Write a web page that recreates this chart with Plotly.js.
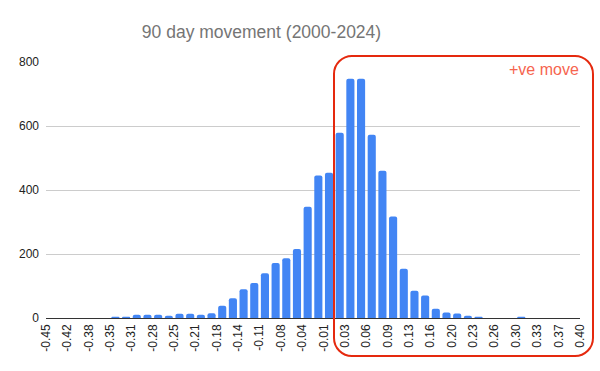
<!DOCTYPE html>
<html>
<head>
<meta charset="utf-8">
<script src="https://cdn.plot.ly/plotly-3.0.1.min.js"></script>
<style>html,body{margin:0;padding:0;background:#fff;}#chart{width:600px;height:371px;}</style>
</head>
<body>
<div id="chart"></div>
<script>
// Bucket lower edges (width 0.017) from -0.45 to 0.40
const bucketStart = -0.45;
const bucketWidth = 0.017;
const counts = [
  0, 0, 0, 0, 0, 0, 4, 4, 10, 10,
  10, 7, 13, 13, 10, 15, 38, 62, 90, 109,
  140, 172, 187, 216, 348, 445, 454, 579, 748, 748,
  573, 460, 317, 154, 85, 70, 29, 17, 14, 7,
  4, 0, 0, 0, 4, 0, 0, 0, 0, 0
];
const tickValues = [-0.45,-0.416,-0.382,-0.348,-0.314,-0.28,-0.246,-0.212,-0.178,-0.144,-0.11,-0.076,-0.042,-0.008,0.026,0.06,0.094,0.128,0.162,0.196,0.23,0.264,0.298,0.332,0.366,0.40];
const tickLabels = ["-0.45","-0.42","-0.38","-0.35","-0.31","-0.28","-0.25","-0.21","-0.18","-0.14","-0.11","-0.08","-0.04","-0.01","0.03","0.06","0.09","0.13","0.16","0.20","0.23","0.26","0.30","0.33","0.37","0.40"];
const yTicks = [0, 200, 400, 600, 800];

const centers = counts.map((c, i) => +(bucketStart + bucketWidth * (i + 0.5)).toFixed(4));

const W = 600, H = 371;
const M = {l: 46, r: 20, t: 62, b: 53};
const pw = W - M.l - M.r, ph = H - M.t - M.b;
const px = x => (x - M.l) / pw;
const py = y => (H - M.b - y) / ph;

// rounded rectangle in pixel terms -> paper coords
function roundRect(x0, y0, x1, y1, r) {
  const P = (x, y) => px(x).toFixed(5) + ',' + py(y).toFixed(5);
  const k = 0.5523 * r;
  return 'M' + P(x0 + r, y0) +
    ' L' + P(x1 - r, y0) +
    ' C' + P(x1 - r + k, y0) + ' ' + P(x1, y0 + r - k) + ' ' + P(x1, y0 + r) +
    ' L' + P(x1, y1 - r) +
    ' C' + P(x1, y1 - r + k) + ' ' + P(x1 - r + k, y1) + ' ' + P(x1 - r, y1) +
    ' L' + P(x0 + r, y1) +
    ' C' + P(x0 + r - k, y1) + ' ' + P(x0, y1 - r + k) + ' ' + P(x0, y1 - r) +
    ' L' + P(x0, y0 + r) +
    ' C' + P(x0, y0 + r - k) + ' ' + P(x0 + r - k, y0) + ' ' + P(x0 + r, y0) + ' Z';
}

const trace = {
  type: 'bar',
  x: centers,
  y: counts,
  width: bucketWidth * 0.76,
  marker: {color: '#4285F4', cornerradius: 2},
  hoverinfo: 'skip'
};

const layout = {
  width: W, height: H,
  margin: M,
  paper_bgcolor: '#fff', plot_bgcolor: '#fff',
  font: {family: 'Liberation Sans, Arial, sans-serif', color: '#222', size: 12},
  showlegend: false,
  title: {
    text: '90 day movement (2000-2024)',
    font: {family: 'Liberation Sans, Arial, sans-serif', size: 17.5, color: '#757575'},
    x: 261.5 / W, xref: 'container', xanchor: 'center',
    y: 1 - 32 / H, yref: 'container', yanchor: 'middle'
  },
  xaxis: {
    range: [-0.45, 0.40],
    tickmode: 'array', tickvals: tickValues, ticktext: tickLabels,
    tickangle: -90, ticks: '', showgrid: false, zeroline: false,
    showline: false,
    tickfont: {size: 12, color: '#222'},
    ticklabelstandoff: 3,
    fixedrange: true
  },
  yaxis: {
    range: [0, 800],
    tickmode: 'array', tickvals: yTicks, ticktext: yTicks.map(String),
    ticks: '', showgrid: true, gridcolor: '#cccccc', gridwidth: 1,
    zeroline: true, zerolinecolor: '#333333', zerolinewidth: 1,
    showline: false,
    tickfont: {size: 12, color: '#222'},
    ticklabelstandoff: 6,
    fixedrange: true
  },
  shapes: [{
    type: 'path', xref: 'paper', yref: 'paper',
    path: roundRect(334, 56, 593, 356, 18),
    line: {color: '#E5290E', width: 2},
    fillcolor: 'rgba(0,0,0,0)',
    layer: 'above'
  }],
  annotations: [{
    text: '+ve move', xref: 'paper', yref: 'paper',
    x: px(581), y: py(69), xanchor: 'right', yanchor: 'middle',
    showarrow: false,
    font: {family: 'Liberation Sans, Arial, sans-serif', size: 16, color: '#F6654F'}
  }]
};

Plotly.newPlot('chart', [trace], layout, {staticPlot: true, displayModeBar: false});
</script>
</body>
</html>
